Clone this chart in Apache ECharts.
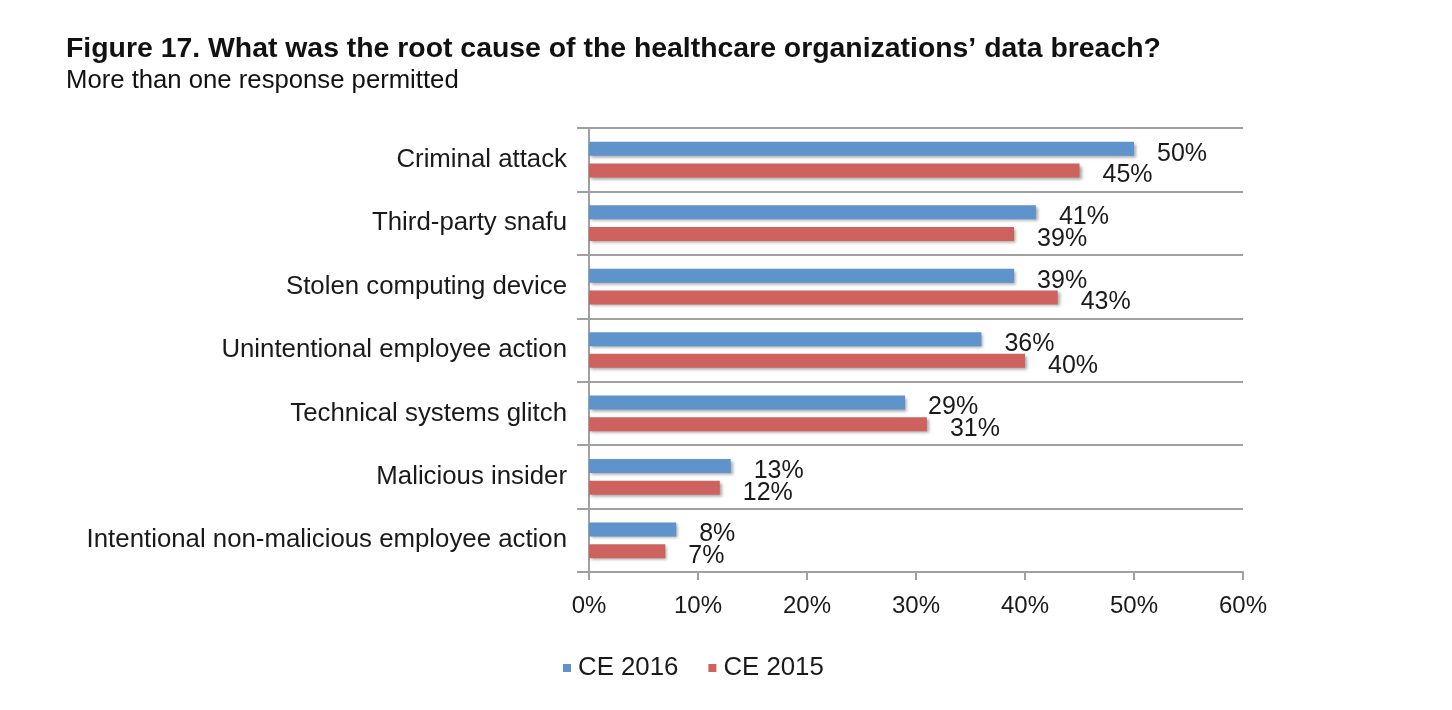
<!DOCTYPE html>
<html>
<head>
<meta charset="utf-8">
<script src="https://cdn.jsdelivr.net/npm/echarts@6/dist/echarts.min.js"></script>
<style>html,body{margin:0;padding:0;background:#fff;}#c{width:1452px;height:710px;}</style>
</head>
<body>
<div id="c"></div>
<script>
const categories = ["Criminal attack","Third-party snafu","Stolen computing device","Unintentional employee action","Technical systems glitch","Malicious insider","Intentional non-malicious employee action"];
const ce2016 = [50,41,39,36,29,13,8];
const ce2015 = [45,39,43,40,31,12,7];
const xTicks = [0,10,20,30,40,50,60];

const chart = echarts.init(document.getElementById('c'));
const font = 'Liberation Sans, Arial, sans-serif';
const shadow = {shadowColor:'rgba(0,0,0,0.35)',shadowBlur:3,shadowOffsetX:2,shadowOffsetY:2};
function mkSeries(name, data, color){
  return {
    name, type:'bar', data, barWidth:14, barGap:'55%',
    itemStyle:Object.assign({color}, shadow),
    label:{show:true, position:'right', distance:23, offset:[0,5], formatter:'{c}%', fontFamily:font, fontSize:25, color:'#1a1a1a'}
  };
}
chart.setOption({
  animation:false,
  textStyle:{fontFamily:font},
  title:{
    text:'Figure 17. What was the root cause of the healthcare organizations\u2019 data breach?',
    subtext:'More than one response permitted',
    left:61, top:30, itemGap:5,
    textStyle:{fontFamily:font, fontSize:28.4, fontWeight:'bold', color:'#111'},
    subtextStyle:{fontFamily:font, fontSize:25.7, color:'#111'}
  },
  legend:{
    data:['CE 2016','CE 2015'], top:650, left:558,
    itemWidth:8, itemHeight:8, itemGap:30, icon:'rect',
    textStyle:{fontFamily:font, fontSize:25.8, color:'#1a1a1a', padding:[0,0,0,2]}
  },
  grid:{left:589, right:209, top:128, bottom:138},
  xAxis:{
    type:'value', min:xTicks[0], max:xTicks[xTicks.length-1], interval:10,
    axisLine:{show:true, lineStyle:{color:'#a0a0a0', width:2}},
    axisTick:{show:true, length:8, lineStyle:{color:'#a0a0a0', width:2}},
    splitLine:{show:false},
    axisLabel:{formatter:'{value}%', fontFamily:font, fontSize:24, color:'#1a1a1a', margin:22}
  },
  yAxis:{
    type:'category', data:categories, inverse:true,
    axisLine:{show:true, lineStyle:{color:'#a0a0a0', width:2}},
    axisTick:{show:true, length:12, lineStyle:{color:'#a0a0a0', width:2}},
    splitLine:{show:true, lineStyle:{color:'#a0a0a0', width:2}},
    axisLabel:{fontFamily:font, fontSize:25.8, color:'#1a1a1a', margin:22}
  },
  series:[mkSeries('CE 2016', ce2016, '#5e93cb'), mkSeries('CE 2015', ce2015, '#ce625f')]
});
</script>
</body>
</html>
